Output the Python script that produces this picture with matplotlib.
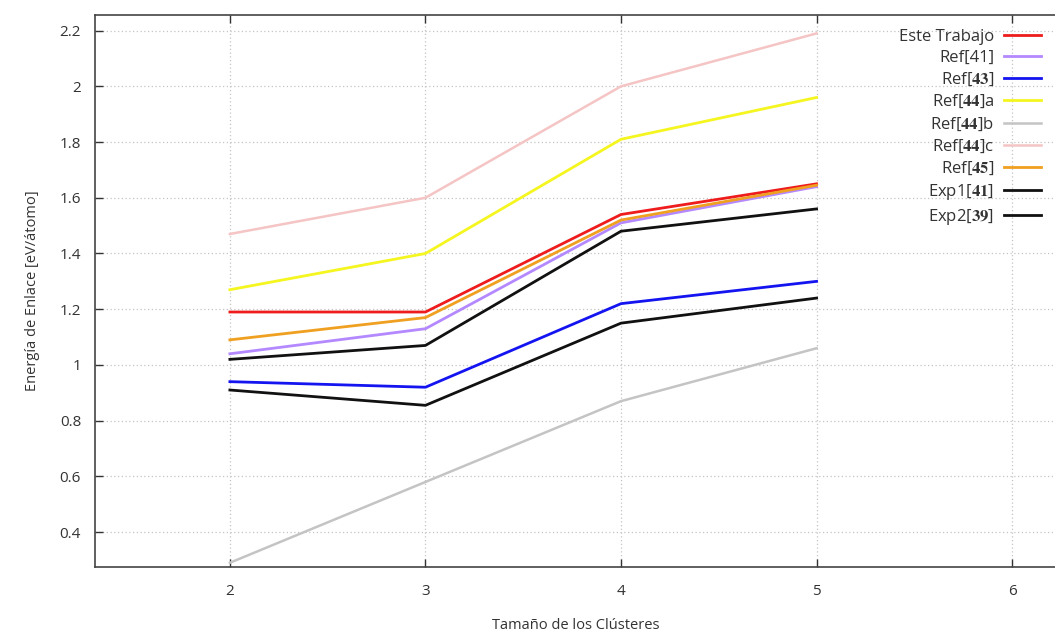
import matplotlib
matplotlib.use("Agg")
import matplotlib.pyplot as plt

plt.rcParams['font.family'] = ['Open Sans', 'DejaVu Sans']
plt.rcParams['mathtext.fontset'] = 'stix'

# cluster sizes
sizes = [2, 3, 4, 5]

# binding energies (eV/atom)
este_trabajo = [1.19, 1.19, 1.54, 1.65]
ref41 = [1.04, 1.13, 1.51, 1.64]
ref43 = [0.94, 0.92, 1.22, 1.30]
ref44a = [1.27, 1.40, 1.81, 1.96]
ref44b = [0.29, 0.58, 0.87, 1.06]
ref44c = [1.47, 1.60, 2.00, 2.19]
ref45 = [1.09, 1.17, 1.52, 1.645]
exp1_41 = [1.02, 1.07, 1.48, 1.56]
exp2_39 = [0.91, 0.855, 1.15, 1.24]

x_ticks = [2, 3, 4, 5, 6]
y_ticks = [0.4, 0.6, 0.8, 1.0, 1.2, 1.4, 1.6, 1.8, 2.0, 2.2]
y_tick_labels = ['0.4', '0.6', '0.8', '1', '1.2', '1.4', '1.6', '1.8', '2', '2.2']

fig = plt.figure(figsize=(10.55, 6.37), dpi=100)
ax = fig.add_axes([0.090, 0.110, 0.912, 0.866])

ax.plot(sizes, este_trabajo, color='#ee1c1c', lw=2.0, label='Este Trabajo')
ax.plot(sizes, ref41, color='#b488ff', lw=2.0, label='Ref[41]')
ax.plot(sizes, ref43, color='#1414f0', lw=2.0, label=r'Ref[$\mathbf{43}$]')
ax.plot(sizes, ref44a, color='#f5f520', lw=2.0, label=r'Ref[$\mathbf{44}$]a')
ax.plot(sizes, ref44b, color='#c4c4c4', lw=1.8, label=r'Ref[$\mathbf{44}$]b')
ax.plot(sizes, ref44c, color='#f5c4c4', lw=1.8, label=r'Ref[$\mathbf{44}$]c')
ax.plot(sizes, ref45, color='#f0a020', lw=2.0, label=r'Ref[$\mathbf{45}$]')
ax.plot(sizes, exp1_41, color='#111111', lw=2.0, label=r'Exp1[$\mathbf{41}$]')
ax.plot(sizes, exp2_39, color='#111111', lw=2.0, label=r'Exp2[$\mathbf{39}$]')

ax.set_xlim(1.31, 6.23)
ax.set_ylim(0.275, 2.255)
ax.set_xticks(x_ticks)
ax.set_yticks(y_ticks)
ax.set_yticklabels(y_tick_labels)

ax.grid(True, color='#c4c4c4', ls=(0, (1, 2)), lw=0.9)
ax.tick_params(direction='in', top=True, length=6, width=1.0, labelsize=11,
               colors='#333333', pad=10)
ax.tick_params(axis='x', pad=12)
for s in ['left', 'bottom', 'top']:
    ax.spines[s].set_color('#444444')
    ax.spines[s].set_linewidth(1.2)
ax.spines['right'].set_visible(False)

ax.set_xlabel('Tamaño de los Clústeres', fontsize=10.5, color='#333333', labelpad=14)
ax.set_ylabel('Energía de Enlace [eV/átomo]', fontsize=10.5, color='#333333', labelpad=14)

leg = ax.legend(loc='upper right', frameon=False, markerfirst=False, fontsize=12,
                handlelength=2.2, labelspacing=0.3, borderaxespad=0.4,
                handletextpad=0.6, bbox_to_anchor=(0.997, 1.0))
for t in leg.get_texts():
    t.set_color('#333333')

fig.savefig('out.png', dpi=100)
